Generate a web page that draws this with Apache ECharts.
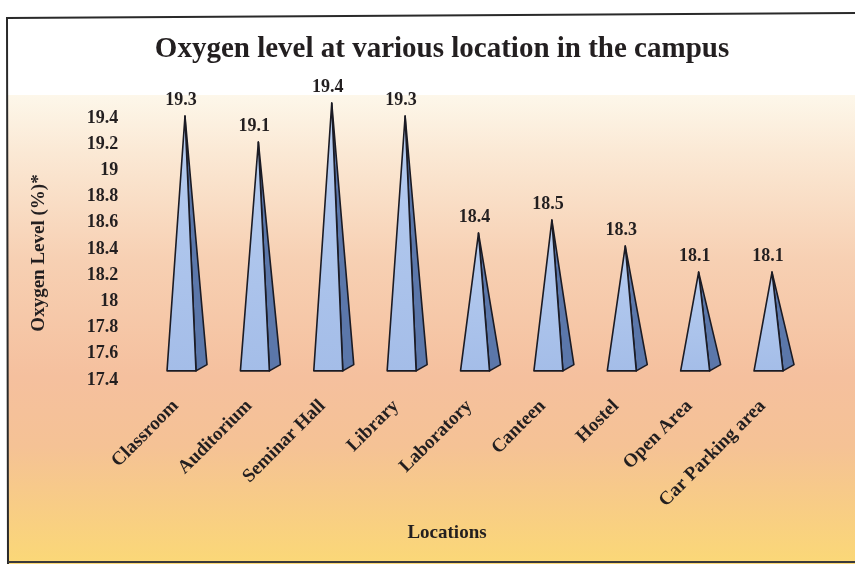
<!DOCTYPE html>
<html>
<head>
<meta charset="utf-8">
<script src="https://cdn.jsdelivr.net/npm/echarts@6/dist/echarts.min.js"></script>
<style>
  html, body { margin: 0; padding: 0; background: #ffffff; }
  #chart { width: 855px; height: 564px; }
</style>
</head>
<body>
<div id="chart"></div>
<script>
// Oxygen readings per campus location
const locations = ['Classroom', 'Auditorium', 'Seminar Hall', 'Library', 'Laboratory',
                   'Canteen', 'Hostel', 'Open Area', 'Car Parking area'];
const oxygenLevels = [19.3, 19.1, 19.4, 19.3, 18.4, 18.5, 18.3, 18.1, 18.1];

// Printed scale on the back wall
const tickMin = 17.4;
const tickMax = 19.4;
const tickStep = 0.2;

// Depth scale used by the pyramids (the floor sits a little in front of the wall)
const floorLevel = 17.34;
const depthMin = 17.27;
const depthMax = 19.285;

const serif = '"Liberation Serif", "Times New Roman", "DejaVu Serif", serif';
const ink = '#231f20';

const chart = echarts.init(document.getElementById('chart'), null, { renderer: 'canvas' });

function renderPyramid(params, api) {
  const cat = api.value(0);
  const v = api.value(1);
  const apex = api.coord([cat, v]);
  const base = api.coord([cat, floorLevel]);
  const band = api.size([1, 0])[0];
  const cx = apex[0];
  const by = base[1];
  const fl = cx - band * 0.245;
  const fr = cx + band * 0.15;
  const bx = cx + band * 0.30;
  const bdy = band * 0.085;
  return {
    type: 'group',
    children: [
      {
        type: 'polygon',
        shape: { points: [[fr, by], [bx, by - bdy], [cx, apex[1]]] },
        style: { fill: '#5b77aa', stroke: '#1b1b24', lineWidth: 1.6, lineJoin: 'round' }
      },
      {
        type: 'polygon',
        shape: { points: [[fl, by], [fr, by], [cx, apex[1]]] },
        style: {
          fill: new echarts.graphic.LinearGradient(0, 0, 0, 1, [
            { offset: 0, color: '#b7cdf0' },
            { offset: 1, color: '#a4bde8' }
          ]),
          stroke: '#1b1b24', lineWidth: 1.6, lineJoin: 'round'
        }
      },
      {
        type: 'text',
        x: cx - 4,
        y: apex[1] - 7,
        style: {
          text: String(v),
          fill: ink,
          font: 'bold 18px ' + serif,
          align: 'center',
          verticalAlign: 'bottom'
        }
      }
    ]
  };
}

const option = {
  backgroundColor: '#ffffff',
  animation: false,
  title: {
    text: 'Oxygen level at various location in the campus',
    left: 437,
    top: 30,
    textAlign: 'center',
    textStyle: { fontFamily: serif, fontWeight: 'bold', fontSize: 29, color: ink }
  },
  graphic: [
    {
      type: 'rect',
      z: -10,
      shape: { x: 8, y: 95, width: 847, height: 469 },
      style: {
        fill: new echarts.graphic.LinearGradient(0, 0, 0, 1, [
          { offset: 0, color: '#fdf7ea' },
          { offset: 0.12, color: '#fbe9d5' },
          { offset: 0.35, color: '#f7d0b3' },
          { offset: 0.6, color: '#f5c09e' },
          { offset: 0.75, color: '#f5c295' },
          { offset: 0.88, color: '#f8cd85' },
          { offset: 1, color: '#fbd877' }
        ])
      }
    },
    {
      type: 'polyline',
      z: 10,
      shape: { points: [[855, 13], [7, 18], [8, 564]] },
      style: { stroke: '#2a2a2a', lineWidth: 2, fill: null }
    },
    {
      type: 'line',
      z: 10,
      shape: { x1: 8, y1: 562, x2: 855, y2: 562 },
      style: { stroke: '#3a3a3a', lineWidth: 2 }
    },
    {
      type: 'text',
      x: 39,
      y: 253,
      rotation: Math.PI / 2,
      style: {
        text: 'Oxygen Level (%)*',
        fill: ink,
        font: 'bold 19px ' + serif,
        align: 'center',
        verticalAlign: 'middle'
      }
    },
    {
      type: 'text',
      x: 447,
      y: 533,
      style: {
        text: 'Locations',
        fill: ink,
        font: 'bold 19px ' + serif,
        align: 'center',
        verticalAlign: 'middle'
      }
    }
  ],
  grid: { left: 148.3, right: 46.3, top: 118, bottom: 184, containLabel: false },
  xAxis: {
    type: 'category',
    data: locations,
    axisLine: { show: false },
    axisTick: { show: false },
    splitLine: { show: false },
    axisLabel: {
      rotate: 45,
      interval: 0,
      margin: 14,
      padding: [0, 13, 0, 0],
      fontFamily: serif,
      fontWeight: 'bold',
      fontSize: 19,
      color: ink
    }
  },
  yAxis: [
    {
      type: 'value',
      min: tickMin,
      max: tickMax,
      interval: tickStep,
      axisLine: { show: false },
      axisTick: { show: false },
      splitLine: { show: false },
      axisLabel: {
        margin: 30,
        fontFamily: serif,
        fontWeight: 'bold',
        fontSize: 18,
        color: ink,
        formatter: v => String(Number(v.toFixed(1)))
      }
    },
    {
      type: 'value',
      min: depthMin,
      max: depthMax,
      show: false
    }
  ],
  series: [
    {
      type: 'custom',
      yAxisIndex: 1,
      clip: false,
      renderItem: renderPyramid,
      data: locations.map((name, i) => [i, oxygenLevels[i]])
    }
  ]
};

chart.setOption(option);
</script>
</body>
</html>
